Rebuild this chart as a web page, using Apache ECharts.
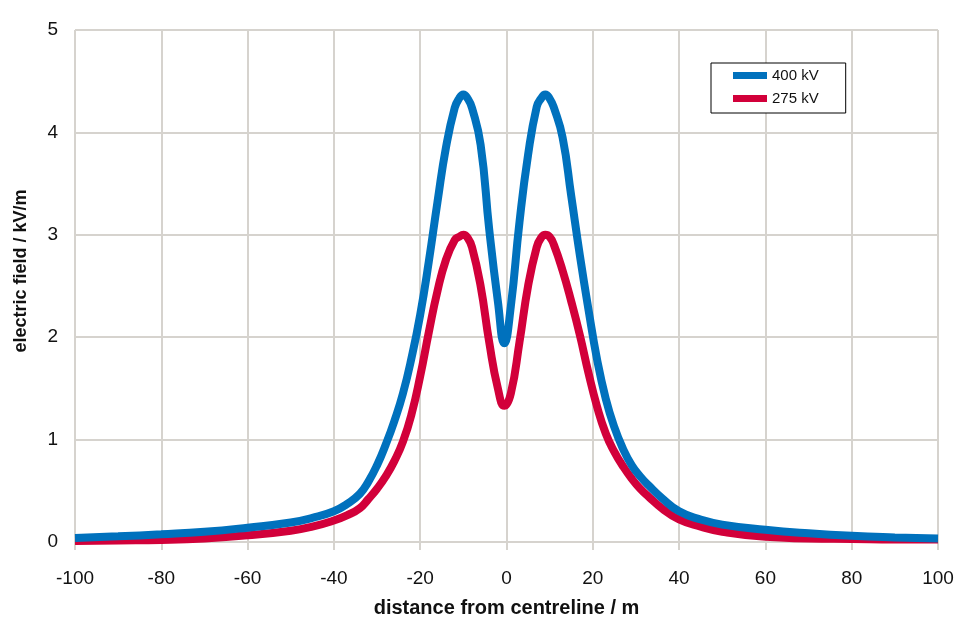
<!DOCTYPE html>
<html>
<head>
<meta charset="utf-8">
<script src="https://cdn.jsdelivr.net/npm/echarts@6/dist/echarts.min.js"></script>
<style>html,body{margin:0;padding:0;background:#fff}#c{width:955px;height:619px}</style>
</head>
<body>
<div id="c"></div>
<script>
var xValues = [-100,-90,-80,-70,-60,-50,-45,-40,-37,-34,-32,-30,-28,-26,-24,-22,-20,-18,-16,-14,-12,-11,-10,-9,-8,-6,-4,-2,-0.5,1,3,5,7,8,9,10,11,13,15,17,19,21,23,25,27,29,31,33,36,40,45,50,60,70,80,90,100];
var kv400 = [0.04,0.055,0.075,0.10,0.14,0.19,0.235,0.30,0.37,0.47,0.59,0.75,0.95,1.18,1.45,1.80,2.22,2.74,3.32,3.86,4.24,4.33,4.37,4.33,4.24,3.88,3.05,2.35,1.94,2.3,3.12,3.78,4.25,4.33,4.37,4.33,4.24,3.95,3.38,2.8,2.27,1.78,1.4,1.12,0.91,0.75,0.64,0.55,0.43,0.30,0.22,0.17,0.12,0.085,0.06,0.045,0.035];
var kv275 = [0.01,0.015,0.02,0.035,0.065,0.11,0.15,0.21,0.26,0.33,0.42,0.52,0.64,0.79,0.98,1.25,1.62,2.05,2.45,2.76,2.95,2.98,3.0,2.97,2.88,2.5,1.95,1.5,1.33,1.45,1.95,2.5,2.88,2.97,3.0,2.98,2.9,2.65,2.35,2.02,1.65,1.32,1.06,0.88,0.74,0.62,0.52,0.44,0.33,0.22,0.15,0.10,0.05,0.035,0.03,0.025,0.025];
var seriesNames = ['400 kV','275 kV'];
var xTitle = 'distance from centreline / m';
var yTitle = 'electric field / kV/m';

function pairs(ys){ return xValues.map(function(x,i){ return [x, ys[i]]; }); }

var gridColor = '#d6d3ce';
var font = 'Liberation Sans, Arial, sans-serif';
var chart = echarts.init(document.getElementById('c'), null, {renderer:'canvas'});
chart.setOption({
  animation:false,
  backgroundColor:'#fff',
  grid:{left:75, right:17, top:30, bottom:77, containLabel:false, outerBoundsMode:'none'},
  legend:{
    orient:'vertical', left:711, top:63,
    data:seriesNames,
    icon:'rect', itemWidth:34, itemHeight:7, itemGap:8,
    padding:[5,27,7,22],
    borderColor:'#000', borderWidth:1, backgroundColor:'#fff', borderRadius:0,
    textStyle:{fontFamily:font, fontSize:15, color:'#111'}
  },
  xAxis:{
    type:'value', min:-100, max:100, interval:20,
    name:xTitle, nameLocation:'middle', nameGap:56,
    nameTextStyle:{fontFamily:font, fontSize:20, fontWeight:'bold', color:'#111'},
    axisLine:{show:true, lineStyle:{color:gridColor, width:2}},
    axisTick:{show:true, length:8, lineStyle:{color:gridColor, width:2}},
    axisLabel:{fontFamily:font, fontSize:19, color:'#111', margin:27},
    splitLine:{show:true, lineStyle:{color:gridColor, width:2}}
  },
  yAxis:{
    type:'value', min:0, max:5, interval:1,
    name:yTitle, nameLocation:'middle', nameGap:45, nameRotate:90,
    nameTextStyle:{fontFamily:font, fontSize:18, fontWeight:'bold', color:'#111', padding:[0,0,0,30]},
    axisLine:{show:true, lineStyle:{color:gridColor, width:2}},
    axisTick:{show:true, length:8, lineStyle:{color:gridColor, width:2}},
    axisLabel:{fontFamily:font, fontSize:19, color:'#111', margin:17},
    splitLine:{show:true, lineStyle:{color:gridColor, width:2}}
  },
  series:[
    {name:seriesNames[1], type:'line', data:pairs(kv275), smooth:0.5, showSymbol:false,
     lineStyle:{color:'#d2003a', width:8}, itemStyle:{color:'#d2003a'}, z:2},
    {name:seriesNames[0], type:'line', data:pairs(kv400), smooth:0.5, showSymbol:false,
     lineStyle:{color:'#0071bd', width:8}, itemStyle:{color:'#0071bd'}, z:3}
  ]
});
</script>
</body>
</html>
